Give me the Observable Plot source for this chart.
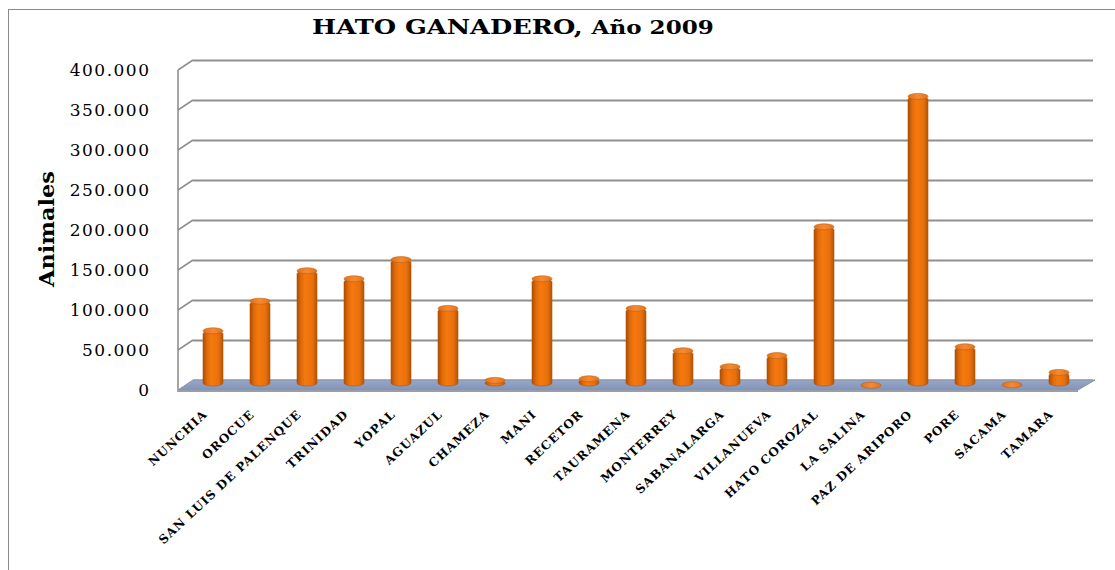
<!DOCTYPE html>
<html><head><meta charset="utf-8">
<script src="https://cdn.jsdelivr.net/npm/d3@7"></script>
<script src="https://cdn.jsdelivr.net/npm/@observablehq/plot@0.6"></script>
<style>
body{margin:0;background:#fff;}
#wrap{position:relative;width:1115px;height:570px;overflow:hidden;background:#fff;}
#frame{position:absolute;left:8px;top:9px;width:1300px;height:800px;border:1.5px solid #8a8a8a;}
#title{position:absolute;left:0;width:1026px;top:15px;text-align:center;font-family:"DejaVu Serif",serif;font-weight:bold;font-size:20px;line-height:24px;color:#000;white-space:nowrap;}
#title .in{display:inline-block;transform:scaleX(1.28);}
#title .s{font-size:18px;}
#ylabel{position:absolute;left:47px;top:229px;transform:translate(-50%,-50%) rotate(-90deg) scaleX(1.12);font-family:"DejaVu Serif",serif;font-weight:bold;font-size:20px;white-space:nowrap;color:#000;}
#chart{position:absolute;left:0;top:0;}
g[aria-label="y-axis tick label"] text{font-size:17px;letter-spacing:1.5px;}
g[aria-label="x-axis tick label"] text{font-size:12px;font-weight:bold;letter-spacing:1px;}
</style>
</head><body>
<svg width="0" height="0" style="position:absolute">
<defs>
<linearGradient id="cyl" x1="0" x2="1" y1="0" y2="0">
<stop offset="0" stop-color="#a84d05"/>
<stop offset="0.2" stop-color="#e06a0a"/>
<stop offset="0.42" stop-color="#f5790f"/>
<stop offset="0.78" stop-color="#e8700c"/>
<stop offset="1" stop-color="#b05506"/>
</linearGradient>
<linearGradient id="cap" x1="0" x2="1" y1="0" y2="0">
<stop offset="0" stop-color="#e2701a"/>
<stop offset="0.5" stop-color="#f58a35"/>
<stop offset="1" stop-color="#e0731e"/>
</linearGradient>
<linearGradient id="floor" x1="0" x2="0" y1="0" y2="1">
<stop offset="0" stop-color="#98a7c9"/>
<stop offset="1" stop-color="#8293b9"/>
</linearGradient>
</defs></svg>
<div id="wrap">
<div id="frame"></div>
<div id="chart"></div>
<div id="title"><span class="in">HATO GANADERO, <span class="s">Año 2009</span></span></div>
<div id="ylabel">Animales</div>
</div>
<script>
const municipios = ["NUNCHIA","OROCUE","SAN LUIS DE PALENQUE","TRINIDAD","YOPAL","AGUAZUL","CHAMEZA","MANI","RECETOR","TAURAMENA","MONTERREY","SABANALARGA","VILLANUEVA","HATO COROZAL","LA SALINA","PAZ DE ARIPORO","PORE","SACAMA","TAMARA"];
const animales = [69000,106000,144000,134000,158000,97000,7000,134000,9000,97000,44000,24000,38000,199000,1000,362000,49000,1500,17000];
const yTicks = [0,50000,100000,150000,200000,250000,300000,350000,400000];

const rows = municipios.map((m,i)=>({name:m, value:animales[i]}));
const fmt = d => d === 0 ? "0" : d3.format(",")(d).replace(/,/g,".");

const DX = 15, DY = -10; // depth of the 3D walls (back wall offset)

function walls(index, scales, values, dim) {
  const g = d3.create("svg:g");
  const x0 = dim.marginLeft, x1 = dim.width - dim.marginRight;
  const y0 = scales.y(0);
  g.selectAll("line.d").data(yTicks.slice(1)).join("line")
    .attr("x1", x0).attr("y1", d => scales.y(d))
    .attr("x2", x0 + DX).attr("y2", d => scales.y(d) + DY)
    .attr("stroke", "#8f8f8f").attr("stroke-width", 1.6);
  g.append("line").attr("x1", x0).attr("x2", x0)
    .attr("y1", scales.y(400000)).attr("y2", y0 + 2)
    .attr("stroke", "#8f8f8f").attr("stroke-width", 1.6);
  g.append("path")
    .attr("d", `M${x0},${y0}L${x1},${y0}L${x1 + DX + 2},${y0 + DY}L${x0 + DX},${y0 + DY}Z`)
    .attr("fill", "url(#floor)").attr("stroke", "#8c93a3").attr("stroke-width", 1);
  g.append("path")
    .attr("d", `M${x0},${y0}L${x1},${y0}L${x1},${y0 + 2}L${x0},${y0 + 2}Z`)
    .attr("fill", "#9a9ea8");
  return g.node();
}

const chart = Plot.plot({
  width: 1115, height: 570,
  marginTop: 70, marginBottom: 180, marginLeft: 178, marginRight: 37,
  style: {fontFamily: "DejaVu Serif, serif", background: "transparent", color: "#000", overflow: "visible"},
  x: {domain: municipios, paddingInner: 0.58, paddingOuter: 0.29, label: null},
  y: {domain: [0, 400000], label: null},
  marks: [
    Plot.ruleY(yTicks, {dx: DX, dy: DY, stroke: "#8f8f8f", strokeWidth: 2, strokeOpacity: 1}),
    walls,
    Plot.barY(rows, {x: "name", y: "value", dx: 8, dy: -4, fill: "url(#cyl)", rx: 10, ry: 3, stroke: "#b5560a", strokeWidth: 0.6}),
    Plot.barY(rows, {x: "name", y1: "value", y2: "value", insetTop: -3, insetBottom: -3, dx: 8, dy: -4, fill: "url(#cap)", rx: 10, ry: 3, stroke: "#c0600c", strokeWidth: 0.6}),
    Plot.axisY(yTicks, {tickSize: 0, tickPadding: 28, tickFormat: fmt}),
    Plot.axisX({tickSize: 0, tickRotate: -43, tickPadding: 22, fontWeight: "bold"})
  ]
});
document.getElementById("chart").appendChild(chart);
</script>
</body></html>
